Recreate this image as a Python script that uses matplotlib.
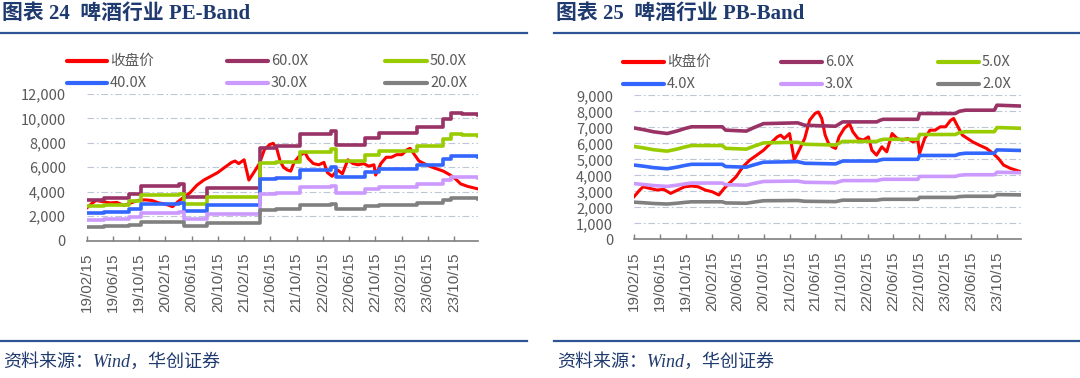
import matplotlib
matplotlib.use('Agg')
import matplotlib.pyplot as plt
import matplotlib.dates as mdates
from matplotlib.lines import Line2D
import numpy as np
import pandas as pd

# ---------------- data ----------------
close_dates = ['2019-02-15', '2019-03-14', '2019-03-30', '2019-05-01', '2019-06-03', '2019-07-05',
               '2019-08-06', '2019-09-08', '2019-10-10', '2019-11-12', '2019-12-14', '2020-01-15',
               '2020-02-17', '2020-03-19', '2020-04-13', '2020-05-06', '2020-06-08', '2020-07-10',
               '2020-08-11', '2020-09-13', '2020-10-15', '2020-11-16', '2020-12-18', '2021-01-03',
               '2021-01-20', '2021-02-14', '2021-03-08', '2021-03-31', '2021-04-26', '2021-05-19',
               '2021-06-13', '2021-06-29', '2021-07-15', '2021-07-31', '2021-08-16', '2021-09-02',
               '2021-09-18', '2021-10-04', '2021-10-28', '2021-11-22', '2021-12-08', '2022-01-01',
               '2022-01-26', '2022-02-19', '2022-03-07', '2022-03-29', '2022-04-23', '2022-05-16',
               '2022-06-10', '2022-07-04', '2022-07-28', '2022-08-22', '2022-09-15', '2022-10-09',
               '2022-10-17', '2022-11-10', '2022-12-05', '2022-12-29', '2023-01-22', '2023-02-16',
               '2023-03-12', '2023-03-26', '2023-04-11', '2023-05-06', '2023-05-30', '2023-06-23',
               '2023-07-25', '2023-08-27', '2023-09-28', '2023-10-22', '2023-11-15', '2023-12-18',
               '2024-02-05']
close_values = [2660, 3080, 3280, 3180, 3080, 3120,
                2870, 3080, 3280, 3330, 3280, 3080,
                2970, 2770, 3180, 3490, 3910, 4530,
                4950, 5260, 5570, 5990, 6400, 6510,
                6300, 6610, 4950, 5570, 6300, 7440,
                7860, 7960, 7550, 6510, 5990, 5780,
                5680, 6400, 6920, 7230, 6720, 6300,
                6200, 6400, 5570, 5260, 5780, 5470,
                6610, 6300, 6200, 6300, 6090, 6200,
                5360, 6300, 6820, 6820, 7030, 7030,
                7440, 7550, 7130, 6510, 6300, 6090,
                5880, 5680, 5360, 5050, 4640, 4430,
                4220]

# PE band: earnings per index point (step dates)
eps_dates = ['2019-02-15', '2019-05-04', '2019-09-01', '2019-10-27', '2020-04-20', '2020-05-13',
             '2020-08-26', '2021-04-30', '2021-07-10', '2021-10-30', '2022-03-22', '2022-04-15',
             '2022-08-30', '2022-11-01', '2023-04-25', '2023-08-23', '2023-10-02', '2023-11-20',
             '2024-02-05']
eps_values = [55.8, 57.5, 64.0, 75.0, 76.7, 60.0,
              71.7, 126.7, 129.0, 145.0, 150.0, 131.0,
              140.0, 146.7, 155.0, 166.0, 174.0, 172.5,
              172.0]
pe_multiples = [60, 50, 40, 30, 20]
pe_labels = ['60.0X', '50.0X', '40.0X', '30.0X', '20.0X']

# PB band: book value per index point
bvps_dates = ['2019-02-15', '2019-03-30', '2019-05-17', '2019-07-21', '2019-09-08', '2019-10-10',
              '2019-11-12', '2020-04-04', '2020-04-20', '2020-07-26', '2020-08-27', '2020-10-15',
              '2021-03-24', '2021-04-26', '2021-09-18', '2021-10-21', '2022-03-30', '2022-04-15',
              '2022-04-30', '2022-10-09', '2022-10-17', '2023-04-03', '2023-04-21', '2023-05-21',
              '2023-10-03', '2023-10-15', '2024-02-05']
bvps_values = [1160, 1143, 1120, 1102, 1130, 1153,
               1172, 1172, 1137, 1127, 1160, 1205,
               1213, 1188, 1178, 1223, 1223, 1240,
               1250, 1250, 1310, 1310, 1333, 1345,
               1345, 1397, 1388]
pb_multiples = [6, 5, 4, 3, 2]
pb_labels = ['6.0X', '5.0X', '4.0X', '3.0X', '2.0X']

tick_labels = ['19/02/15', '19/06/15', '19/10/15', '20/02/15', '20/06/15', '20/10/15', '21/02/15',
               '21/06/15', '21/10/15', '22/02/15', '22/06/15', '22/10/15', '23/02/15', '23/06/15',
               '23/10/15']
close_label = '收盘价'

# ---------------- style ----------------
band_colors = ['#993366', '#99CC00', '#3366FF', '#CC99FF', '#808080']
red = '#FF0000'
title_color = '#1F3A6E'
rule_color = '#2F5496'
grid_color = '#BCC6D6'
text_gray = '#595959'
cjk = ['Noto Sans CJK SC', 'DejaVu Sans']
serif_cjk = ['Liberation Serif', 'Noto Sans CJK SC']

W, H = 1080, 378
fig = plt.figure(figsize=(10.8, 3.78), dpi=100)


def fx(px):
    return px / W


def fy(py):
    return 1 - py / H


cd = pd.to_datetime(close_dates)
ed = pd.to_datetime(eps_dates)
bd = pd.to_datetime(bvps_dates)
tick_dates = pd.to_datetime(['20' + t.replace('/', '-') for t in tick_labels])
xmin = pd.Timestamp('2019-02-15')
xmax = pd.Timestamp('2024-02-05')


def setup_axes(rect, ymax, ystep):
    ax = fig.add_axes(rect)
    ax.set_xlim(xmin, xmax)
    ax.set_ylim(0, ymax)
    yt = np.arange(0, ymax + 1, ystep)
    ax.set_yticks(yt)
    ax.set_yticklabels([f'{int(v):,}' for v in yt], family=cjk, fontsize=10.5, color=text_gray)
    for v in yt[1:]:
        ax.axhline(v, color=grid_color, lw=0.8, ls=(0, (6, 2.5, 1.5, 2.5)), zorder=0)
    ax.set_xticks(tick_dates)
    ax.set_xticklabels(tick_labels, rotation=90, family=['Liberation Sans'], fontsize=11,
                       color=text_gray)
    for s in ['top', 'right', 'left']:
        ax.spines[s].set_visible(False)
    ax.spines['bottom'].set_color('#7F7F7F')
    ax.spines['bottom'].set_linewidth(1.2)
    ax.tick_params(axis='x', direction='in', length=3.5, width=1, color='#7F7F7F', pad=9)
    ax.tick_params(axis='y', length=0, pad=15)
    ax.patch.set_alpha(0)
    return ax


# ---------- left: PE band ----------
axL = setup_axes([fx(86.7), fy(240.5), fx(478.3 - 86.7), (240.5 - 94) / H], 12000, 2000)
axL.plot(cd, close_values, color=red, lw=2.2, zorder=2)
eps_arr = np.array(eps_values)
for m, c in zip(pe_multiples, band_colors):
    axL.plot(ed, eps_arr * m, color=c, lw=2.6, drawstyle='steps-post', zorder=3)

# ---------- right: PB band ----------
axR = setup_axes([fx(634), fy(239.3), fx(1021 - 634), (239.3 - 95.3) / H], 9000, 1000)
axR.plot(cd, close_values, color=red, lw=2.2, zorder=2)
bv_arr = np.array(bvps_values)
for m, c in zip(pb_multiples, band_colors):
    axR.plot(bd, bv_arr * m, color=c, lw=2.6, zorder=3)


# ---------- legends (drawn in figure coords) ----------
def draw_legend(cols_line, row_y, labels, colors):
    # row-major: row 0 -> close, first, second; row 1 -> third, fourth, fifth
    items = list(zip(labels, colors))
    for i, (lab, col) in enumerate(items):
        r, c = divmod(i, 3)
        x0, x1 = cols_line[c]
        y = row_y[r]
        fig.add_artist(Line2D([fx(x0), fx(x1)], [fy(y), fy(y)], color=col, lw=3,
                              solid_capstyle='round', transform=fig.transFigure))
        fig.text(fx(x1 + 3), fy(y), lab, family=cjk, fontsize=10.5, color=text_gray,
                 va='center', ha='left')


draw_legend([(67, 107), (227, 268), (385, 427)], [61, 83],
            [close_label] + pe_labels, [red] + band_colors)
draw_legend([(623, 664), (781, 822), (938, 979)], [61.5, 83.5],
            [close_label] + pb_labels, [red] + band_colors)

# ---------- titles, rules, sources ----------
fig.text(fx(2.5), fy(14), '图表 24  啤酒行业 PE-Band', family=serif_cjk, weight='bold',
         fontsize=15, color=title_color, va='center', ha='left')
fig.text(fx(555.5), fy(14), '图表 25  啤酒行业 PB-Band', family=serif_cjk, weight='bold',
         fontsize=15, color=title_color, va='center', ha='left')
for (a, b) in [(0, 527), (554, 1080)]:
    fig.add_artist(Line2D([fx(a), fx(b)], [fy(33.3), fy(33.3)], color=rule_color, lw=1.6,
                          transform=fig.transFigure))
    fig.add_artist(Line2D([fx(a), fx(b)], [fy(341), fy(341)], color=rule_color, lw=1.6,
                          transform=fig.transFigure))
fig.text(fx(3.5), fy(362), '资料来源：Wind，华创证券', family=serif_cjk, style='italic',
         fontsize=13, color=title_color, va='center', ha='left')
fig.text(fx(557), fy(362), '资料来源：Wind，华创证券', family=serif_cjk, style='italic',
         fontsize=13, color=title_color, va='center', ha='left')

fig.savefig('out.png', dpi=100)
